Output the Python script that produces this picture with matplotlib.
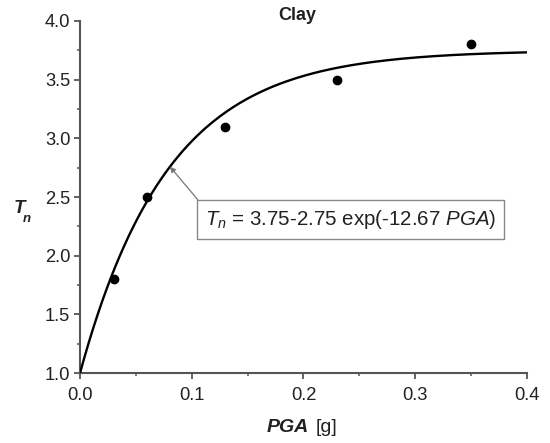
import numpy as np
import matplotlib.pyplot as plt

plt.rcParams['font.family'] = ['Liberation Sans', 'DejaVu Sans']
plt.rcParams['mathtext.fontset'] = 'custom'
plt.rcParams['mathtext.it'] = 'Liberation Sans:italic'
plt.rcParams['mathtext.rm'] = 'Liberation Sans'

# measured points
pga = [0.03, 0.06, 0.13, 0.23, 0.35]
tn = [1.8, 2.5, 3.1, 3.5, 3.8]

# fitted curve Tn = a - b*exp(-c*PGA)
fitA = 3.75
fitB = 2.75
fitC = 12.67

xTicks = [0.0, 0.1, 0.2, 0.3, 0.4]
yTicks = [1.0, 1.5, 2.0, 2.5, 3.0, 3.5, 4.0]

axisColor = '#555555'
textColor = '#222222'

fig = plt.figure(figsize=(5.5, 4.43), dpi=100)
ax = fig.add_axes([0.1455, 0.158, 0.8125, 0.7946])

xCurve = np.linspace(0, 0.4, 200)
yCurve = fitA - fitB * np.exp(-fitC * xCurve)
ax.plot(xCurve, yCurve, color='black', linewidth=1.7, zorder=3)
ax.plot(pga, tn, 'o', color='black', markersize=6, zorder=4)

ax.set_xlim(0, 0.4)
ax.set_ylim(1.0, 4.0)
ax.set_xticks(xTicks)
ax.set_xticklabels(['%.1f' % v for v in xTicks])
ax.set_yticks(yTicks)
ax.set_yticklabels(['%.1f' % v for v in yTicks])
ax.set_xticks([0.05, 0.15, 0.25, 0.35], minor=True)
ax.set_yticks([1.25, 1.75, 2.25, 2.75, 3.25, 3.75], minor=True)

for side in ['top', 'right']:
  ax.spines[side].set_visible(False)
for side in ['left', 'bottom']:
  ax.spines[side].set_color(axisColor)
  ax.spines[side].set_linewidth(1.5)
ax.tick_params(which='major', direction='out', length=4, width=1.3, color=axisColor, labelsize=13.2, labelcolor=textColor)
ax.tick_params(which='minor', direction='out', length=2.5, width=1.1, color=axisColor)
ax.tick_params(axis='x', which='major', pad=6)
ax.tick_params(axis='y', which='major', pad=3)

fig.text(0.54, 0.955, 'Clay', fontsize=13, fontweight='bold', color=textColor, ha='center', va='baseline')
fig.text(0.562, 0.025, 'PGA', fontsize=14, fontweight='bold', fontstyle='italic', color=textColor, ha='right', va='baseline')
fig.text(0.574, 0.025, '[g]', fontsize=14, color=textColor, ha='left', va='baseline')
fig.text(0.024, 0.519, 'T', fontsize=13.5, fontweight='bold', fontstyle='italic', color=textColor, ha='left', va='baseline')
fig.text(0.042, 0.499, 'n', fontsize=9.5, fontweight='bold', fontstyle='italic', color=textColor, ha='left', va='baseline')

eqText = r'$T_n$ = 3.75-2.75 exp(-%.2f $PGA$)' % fitC
ax.annotate(eqText, xy=(0.0805, fitA - fitB * np.exp(-fitC * 0.0805)), xytext=(0.1115, 2.31),
  fontsize=14.8, color=textColor, ha='left', va='center',
  bbox=dict(boxstyle='square,pad=0.38', facecolor='white', edgecolor='#888888', linewidth=1.0),
  arrowprops=dict(arrowstyle='-|>', color='#777777', linewidth=0.9, mutation_scale=8, shrinkA=0, shrinkB=0,
                  relpos=(0, 1)))

fig.savefig('out.png', dpi=100)
